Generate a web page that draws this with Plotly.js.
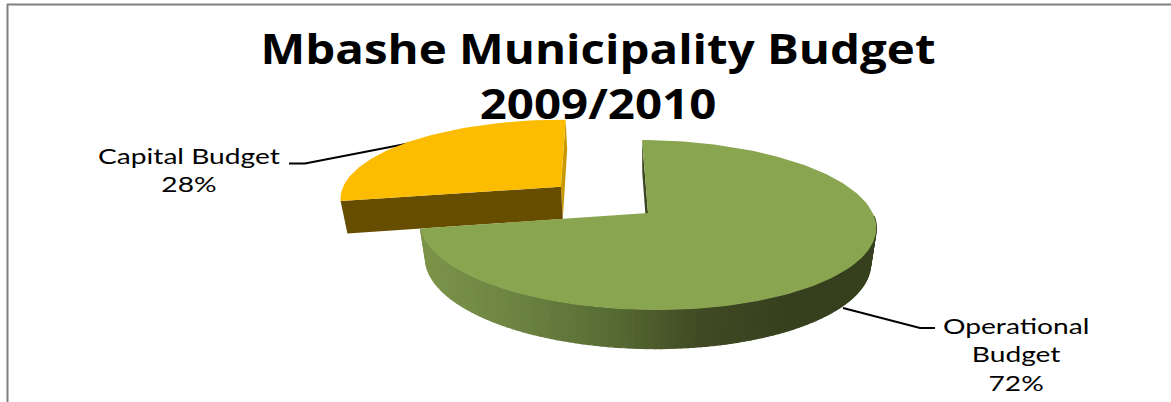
<!DOCTYPE html>
<html>
<head>
<meta charset="utf-8">
<script src="https://cdn.plot.ly/plotly-3.0.1.min.js"></script>
<style>
  html, body { margin: 0; padding: 0; background: #fff; }
  #chart { width: 1171px; height: 402px; }
  /* Labels and title are set wide, stretched around their own centres */
  .annotation-text { transform-box: fill-box; transform-origin: center; transform: scaleX(1.28); }
  .gtitle { transform-box: fill-box; transform-origin: center; transform: scaleX(1.13); }
</style>
</head>
<body>
<div id="chart"></div>
<script>
// Budget split, in percent
const categories = ["Operational Budget", "Capital Budget"];
const shares = [72, 28];
const labelLines = ["Operational<br>Budget", "Capital Budget"];
const chartTitle = "Mbashe Municipality Budget<br>2009/2010";

// Slice colours: top face, and the flat cut face of each slice
const topColors = ["#8aa550", "#fcbc00"];
const cutColors = ["#3c4620", "#674d00"];
const innerEdgeColor = "#c89800";

// Side wall shading of the large slice, left to right
const wallStops = [[420, [124, 148, 73]], [500, [111, 134, 68]], [600, [90, 111, 54]],
                   [700, [64, 74, 35]], [790, [54, 64, 30]], [880, [54, 64, 30]]];

// Tilted-disc projection of the unit circle onto the plot
const disc = { cx: 648, cy: 213, rx: 226, ry: 83.3, depth: 36.5, tilt: 0.141, shrink: 0.025, shear: -3 };
const firstAngle = -1.7;
const pullOut = 0.51;
const capThickness = 0.92;

function project(u, v, z) {
  const w = 1 + disc.tilt * v + disc.shrink * z;
  return [disc.cx + disc.rx * u / w, disc.cy - (disc.ry * v + disc.shear * u - disc.depth * z) / w];
}
const rad = d => d * Math.PI / 180;
const rim = (deg, off, z) => project(off[0] + Math.sin(rad(deg)), off[1] + Math.cos(rad(deg)), z);

function polygon(points, color, edge) {
  return {
    x: points.map(p => p[0]), y: points.map(p => p[1]),
    mode: "lines", fill: "toself", fillcolor: color,
    line: { color: color, width: edge || 0 }, hoverinfo: "skip", showlegend: false
  };
}
function wedge(a0, a1, off, z) {
  const pts = [project(off[0], off[1], z)];
  for (let a = a0; a < a1; a += 1.5) pts.push(rim(a, off, z));
  pts.push(rim(a1, off, z));
  pts.push(pts[0]);
  return pts;
}
function wallColor(x) {
  let i = 0;
  while (i < wallStops.length - 2 && x > wallStops[i + 1][0]) i++;
  const [x0, c0] = wallStops[i], [x1, c1] = wallStops[i + 1];
  const t = Math.min(1, Math.max(0, (x - x0) / (x1 - x0)));
  const c = c0.map((v, k) => Math.round(v + (c1[k] - v) * t));
  return `rgb(${c[0]},${c[1]},${c[2]})`;
}

// Slice angles follow the shares
const opEnd = firstAngle + shares[0] * 3.6;
const capEnd = opEnd + shares[1] * 3.6;
const capMid = (opEnd + capEnd) / 2;
const capOff = [pullOut * Math.sin(rad(capMid)), pullOut * Math.cos(rad(capMid))];
const noOff = [0, 0];

const traces = [];

// Leader lines sit under the slices
const leader = (xs, ys) => ({
  x: xs, y: ys, mode: "lines", line: { color: "#000", width: 2 },
  hoverinfo: "skip", showlegend: false
});
traces.push(leader([289, 305, 416], [163.5, 163.5, 142]));
traces.push(leader([843, 920, 935], [308, 328, 328]));

// Pulled-out slice: cut faces, then top
const capCentreTop = project(capOff[0], capOff[1], 0);
const capCentreLow = project(capOff[0], capOff[1], capThickness);
traces.push(polygon([capCentreTop, rim(capEnd, capOff, 0), rim(capEnd, capOff, capThickness), capCentreLow, capCentreTop], innerEdgeColor));
traces.push(polygon([capCentreTop, rim(opEnd, capOff, 0), rim(opEnd, capOff, capThickness), capCentreLow, capCentreTop], cutColors[1]));
traces.push(polygon(wedge(opEnd, capEnd, capOff, 0), topColors[1]));

// Large slice: cut face at its first edge, shaded rim, then top
traces.push(polygon([project(0, 0, 0), rim(firstAngle, noOff, 0), rim(firstAngle, noOff, 1), project(0, 0, 1)], cutColors[0]));
for (let a = 90; a < opEnd; a += 1.5) {
  const b = Math.min(a + 1.5, opEnd);
  const quad = [rim(a, noOff, 0), rim(b, noOff, 0), rim(b, noOff, 1), rim(a, noOff, 1)];
  quad.push(quad[0]);
  const midX = (quad[0][0] + quad[1][0]) / 2;
  traces.push(polygon(quad, wallColor(midX), 1.2));
}
traces.push(polygon(wedge(firstAngle, opEnd, noOff, 0), topColors[0]));

const labelFont = { family: "Lato, sans-serif", size: 22, color: "#000" };
const annotations = [
  { text: `${labelLines[1]}<br>${shares[1]}%`, x: 189, y: 141 },
  { text: `${labelLines[0]}<br>${shares[0]}%`, x: 1016, y: 311 }
].map(a => Object.assign(a, {
  xref: "x", yref: "y", xanchor: "center", yanchor: "top", align: "center",
  showarrow: false, font: labelFont, borderpad: 0
}));

const frame = { color: "#808080", width: 2 };
const layout = {
  width: 1171, height: 402,
  margin: { l: 0, r: 0, t: 0, b: 0 },
  paper_bgcolor: "#fff", plot_bgcolor: "#fff",
  showlegend: false,
  title: {
    text: chartTitle,
    x: 598 / 1171, xanchor: "center", xref: "paper",
    y: 0.84, yanchor: "top", yref: "container",
    font: { family: "'Open Sans', sans-serif", size: 42, weight: 700, color: "#000" }
  },
  xaxis: { range: [0, 1171], visible: false, fixedrange: true },
  yaxis: { range: [402, 0], visible: false, fixedrange: true },
  annotations: annotations,
  shapes: [
    { type: "line", xref: "x", yref: "y", x0: 7, x1: 1171, y0: 4.5, y1: 4.5, line: frame },
    { type: "line", xref: "x", yref: "y", x0: 7.5, x1: 7.5, y0: 4, y1: 402, line: frame }
  ]
};

Plotly.newPlot("chart", traces, layout, { displayModeBar: false, staticPlot: true });
</script>
</body>
</html>
